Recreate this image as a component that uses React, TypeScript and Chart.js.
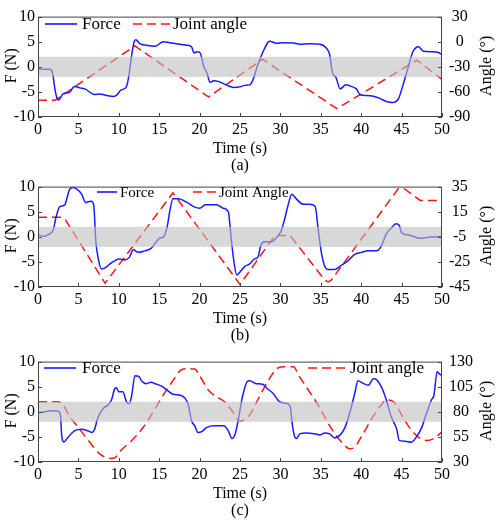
import React, { useEffect, useRef } from "react";
import { Chart, registerables } from "chart.js";

Chart.register(...registerables);

const SERIF = '"Liberation Serif", "Times New Roman", serif';
const BLUE = "rgb(25,25,255)";
const RED = "rgb(255,20,20)";

// Shared force axis and dead band (N)
const forceTicks = [-10, -5, 0, 5, 10];
const bandLimits = [-2, 2];
const timeRange = [0, 50];

// ---------- Trial (a) ----------
const timeForceA = [
  0, 1.5, 1.8, 2.1, 2.3, 2.56, 3.1, 3.9, 4.5, 5.2, 5.8, 7.0, 7.6, 8.5, 9.3, 9.7,
  10.3, 10.9, 11.2, 11.6, 11.9, 12.1, 12.6, 13.4, 14.5, 15.5, 16.3, 17.1, 18.4,
  19.0, 19.3, 19.8, 20.1, 20.5, 20.9, 21.3, 21.7, 22.3, 23.3, 24.2, 25.0, 25.6,
  26.2, 26.6, 27.2, 27.85, 28.5, 28.7, 29.5, 30.3, 31.6, 32.4, 33.6, 34.9, 35.7,
  36.1, 36.4, 36.9, 37.4, 38.1, 38.6, 39.4, 39.9, 40.7, 41.5, 42.3, 43.1, 43.9,
  44.6, 45.2, 45.8, 46.4, 47.1, 47.7, 48.7, 49.5, 50,
];
const forceA = [
  -0.5, -0.5, -1.2, -4.5, -6.0, -6.6, -5.4, -5.1, -3.9, -4.2, -4.4, -5.5, -5.4,
  -5.7, -5.9, -5.7, -4.6, -4.1, -2.2, 2.4, 5.0, 5.4, 4.6, 4.3, 4.1, 5.0, 4.8,
  4.6, 4.3, 4.0, 2.8, 3.0, 2.7, 0.1, -1.2, -3.1, -2.8, -2.9, -3.6, -4.1, -4.0,
  -3.7, -3.6, -2.6, 0.4, 3.0, 4.95, 5.1, 4.7, 4.8, 4.75, 4.5, 4.6, 4.5, 3.7,
  2.4, -0.9, -2.2, -4.4, -3.6, -3.8, -4.4, -5.6, -5.7, -5.85, -6.3, -6.9, -7.1,
  -6.4, -3.5, -0.2, 3.0, 4.0, 3.1, 3.0, 2.9, 2.4,
];
const timeAngleA = [0, 2.1, 12.0, 21.1, 27.8, 37.0, 46.9, 50];
const angleA = [-70, -70, -5, -66, -21, -80, -22, -45];
const angleTicksA = [-90, -60, -30, 0, 30];

// ---------- Trial (b) ----------
const timeForceB = [
  0, 0.8, 1.2, 1.9, 2.2, 2.7, 3.3, 3.5, 3.9, 4.3, 4.8, 5.4, 5.9, 6.2, 6.6, 6.9,
  7.15, 7.5, 7.85, 8.3, 8.9, 9.5, 10.0, 10.7, 11.3, 11.8, 12.4, 13.2, 14.0, 14.7,
  15.1, 15.5, 16.0, 16.3, 16.7, 17.4, 18.4, 19.4, 20.0, 20.7, 22.1, 22.9, 23.55,
  23.9, 24.2, 24.6, 25.0, 25.6, 26.2, 26.8, 27.2, 27.6, 28.05, 28.9, 29.5, 30.1,
  30.5, 30.95, 31.4, 32.0, 32.8, 33.6, 34.3, 34.7, 35.1, 35.5, 35.9, 36.7, 37.5,
  38.2, 39.2, 40.0, 40.9, 41.9, 42.5, 43.1, 43.7, 44.3, 44.7, 45.0, 46.0, 47.3,
  48.5, 50,
];
const forceB = [
  0.4, 0.1, 0.4, 1.4, 3.7, 6.0, 6.3, 7.2, 9.4, 9.8, 9.5, 8.5, 6.8, 7.0, 7.1, 6.3,
  -0.8, -4.7, -6.4, -6.2, -5.4, -4.8, -4.4, -4.6, -4.1, -2.6, -3.1, -2.8, -2.3,
  -0.9, -0.2, -0.1, 2.1, 5.0, 7.6, 7.6, 6.9, 5.9, 5.7, 6.4, 6.4, 5.7, 5.0, -0.2,
  -4.4, -7.6, -7.0, -5.9, -5.4, -4.4, -4.1, -1.6, -1.0, -1.0, -0.2, 1.2, 3.4,
  6.3, 8.5, 7.5, 6.5, 6.5, 6.1, 1.1, -3.4, -5.9, -6.5, -6.5, -5.7, -5.0, -3.5,
  -3.1, -2.8, -2.8, -1.8, 0.6, 1.7, 2.6, 2.3, 0.8, 0.3, -0.3, -0.05, 0.05,
];
const timeAngleB = [0, 2.8, 3.3, 8.3, 16.7, 25.0, 29.3, 31.2, 35.5, 35.9, 36.3, 44.6, 45.0, 45.4, 47.3, 50];
const angleB = [10.5, 10.5, 9.5, -42, 30, -43, -4, -4, -39.5, -41, -39.5, 33.5, 34, 33, 24, 24];
const angleTicksB = [-45, -25, -5, 15, 35];

// ---------- Trial (c) ----------
const timeForceC = [
  0, 1.9, 2.5, 2.8, 2.9, 3.2, 3.7, 4.5, 5.4, 6.2, 6.7, 7.0, 7.4, 8.1, 8.7, 9.1,
  9.5, 9.7, 10.0, 10.5, 10.95, 11.3, 11.6, 12.0, 12.5, 12.8, 13.4, 14.0, 14.5,
  15.3, 15.9, 16.7, 17.6, 18.2, 18.6, 19.0, 19.4, 19.8, 20.2, 20.9, 21.9, 23.0,
  23.55, 24.0, 24.4, 24.8, 25.3, 25.9, 26.2, 27.0, 27.8, 28.4, 29.1, 29.9, 30.7,
  31.2, 31.5, 31.8, 32.0, 32.4, 33.2, 34.3, 34.9, 35.5, 36.1, 36.7, 37.4, 38.0,
  38.4, 38.8, 39.2, 39.6, 40.2, 40.9, 41.5, 41.9, 42.5, 43.1, 43.7, 44.4, 44.7,
  45.4, 46.2, 46.8, 47.5, 48.1, 48.7, 49.0, 49.4, 49.7, 50,
];
const forceC = [
  -0.2, 0.2, 0.1, -0.9, -4.1, -6.0, -5.1, -3.8, -3.5, -3.8, -4.1, -3.5, -1.2, 0.7,
  1.4, 2.4, 4.6, 4.8, 4.0, 4.0, 2.0, 1.6, 3.3, 7.2, 7.0, 6.2, 5.6, 5.9, 5.6, 5.1,
  4.4, 3.5, 3.3, 2.7, 1.4, -1.8, -2.8, -4.1, -4.0, -3.1, -2.8, -2.8, -3.8, -5.3,
  -4.4, -1.5, 3.0, 6.05, 6.2, 5.6, 5.5, 4.6, 3.65, 2.0, 1.7, 1.1, -2.8, -5.1,
  -5.3, -4.4, -4.2, -4.4, -4.6, -4.2, -4.4, -5.2, -4.6, -3.1, -1.2, 1.1, 3.65,
  6.2, 5.7, 5.3, 6.6, 6.4, 4.95, 2.4, -0.9, -3.5, -5.7, -5.85, -6.05, -5.1, -3.1,
  -0.2, 2.4, 3.3, 8.0, 7.5, 7.2,
];
const timeAngleC = [
  0, 2.4, 3.0, 3.9, 5.0, 6.4, 7.6, 8.9, 9.5, 10.3, 11.6, 13.0, 14.3, 15.5, 16.7,
  17.6, 18.2, 19.4, 20.0, 21.1, 22.1, 23.1, 24.2, 25.0, 25.6, 26.2, 27.4, 28.5,
  29.5, 30.3, 31.6, 32.4, 33.6, 34.9, 36.1, 37.4, 38.6, 39.2, 40.2, 41.5, 42.5,
  43.1, 44.0, 45.0, 46.0, 47.1, 48.1, 48.9, 50,
];
const angleC = [
  90, 90, 88, 75.6, 64.3, 49.7, 38.4, 33.6, 34.2, 41.7, 51.4, 64.3, 80.5, 96.7,
  111, 121, 123, 122.6, 116, 101.5, 95, 90, 78.9, 70.8, 72.4, 77, 95, 111, 122.6,
  124.8, 124.8, 114.5, 100, 83.7, 66, 51.4, 43.3, 44.9, 57.8, 75.6, 87, 91.8, 90,
  77, 64, 54.6, 51.4, 53, 60,
];
const angleTicksC = [30, 55, 80, 105, 130];

const zip = (t: number[], v: number[]) => t.map((x, i) => ({ x, y: v[i] }));

type LegendItem = { text: string; dashed: boolean; x0: number; x1: number; tx: number };

type PanelSpec = {
  top: number;
  caption: string;
  force: { x: number; y: number }[];
  angle: { x: number; y: number }[];
  angleTicks: number[];
  angleSmooth: boolean;
  legendY: number;
  legendFont: number;
  legend: LegendItem[];
};

const panels: PanelSpec[] = [
  {
    top: 0,
    caption: "(a)",
    force: zip(timeForceA, forceA),
    angle: zip(timeAngleA, angleA),
    angleTicks: angleTicksA,
    angleSmooth: false,
    legendY: 24,
    legendFont: 17,
    legend: [
      { text: "Force", dashed: false, x0: 45, x1: 77, tx: 82 },
      { text: "Joint angle", dashed: true, x0: 133, x1: 170, tx: 173 },
    ],
  },
  {
    top: 170,
    caption: "(b)",
    force: zip(timeForceB, forceB),
    angle: zip(timeAngleB, angleB),
    angleTicks: angleTicksB,
    angleSmooth: false,
    legendY: 22,
    legendFont: 15,
    legend: [
      { text: "Force", dashed: false, x0: 97, x1: 117, tx: 120 },
      { text: "Joint Angle", dashed: true, x0: 193, x1: 217, tx: 219 },
    ],
  },
  {
    top: 345,
    caption: "(c)",
    force: zip(timeForceC, forceC),
    angle: zip(timeAngleC, angleC),
    angleTicks: angleTicksC,
    angleSmooth: true,
    legendY: 23,
    legendFont: 17,
    legend: [
      { text: "Force", dashed: false, x0: 44, x1: 76, tx: 82 },
      { text: "Joint angle", dashed: true, x0: 308, x1: 347, tx: 350 },
    ],
  },
];

const DASH = [9, 5];

function decorPlugin(spec: PanelSpec) {
  return {
    id: "panelDecor",
    afterDatasetsDraw(chart: any) {
      const { ctx, chartArea: a, scales } = chart;
      ctx.save();
      // dead band, laid over the traces
      const yHi = scales.y.getPixelForValue(bandLimits[1]);
      const yLo = scales.y.getPixelForValue(bandLimits[0]);
      ctx.fillStyle = "rgba(190,190,190,0.6)";
      ctx.fillRect(a.left, yHi, a.right - a.left, yLo - yHi);

      // box frame
      ctx.strokeStyle = "#454545";
      ctx.lineWidth = 1;
      ctx.strokeRect(a.left + 0.5, a.top + 0.5, a.right - a.left - 1, a.bottom - a.top - 1);

      // inward tick marks
      const TL = 4;
      ctx.beginPath();
      scales.x.ticks.forEach((t: any) => {
        const px = Math.round(scales.x.getPixelForValue(t.value)) + 0.5;
        ctx.moveTo(px, a.bottom);
        ctx.lineTo(px, a.bottom - TL);
      });
      scales.y.ticks.forEach((t: any) => {
        const py = Math.round(scales.y.getPixelForValue(t.value)) + 0.5;
        ctx.moveTo(a.left, py);
        ctx.lineTo(a.left + TL, py);
      });
      scales.y1.ticks.forEach((t: any) => {
        const py = Math.round(scales.y1.getPixelForValue(t.value)) + 0.5;
        ctx.moveTo(a.right, py);
        ctx.lineTo(a.right - TL, py);
      });
      ctx.stroke();
      ctx.restore();
    },
    afterDraw(chart: any) {
      const { ctx, chartArea: a } = chart;
      const midX = (a.left + a.right) / 2;
      const midY = (a.top + a.bottom) / 2 - 1;
      ctx.save();
      ctx.fillStyle = "#000";
      ctx.textAlign = "center";
      ctx.textBaseline = "middle";
      ctx.font = `16px ${SERIF}`;

      ctx.fillText("Time (s)", midX, 149);
      ctx.fillText(spec.caption, midX, 166);

      ctx.save();
      ctx.translate(12, midY);
      ctx.rotate(-Math.PI / 2);
      ctx.fillText("F (N)", 0, 0);
      ctx.restore();

      ctx.save();
      ctx.translate(487, midY);
      ctx.rotate(-Math.PI / 2);
      ctx.fillText("Angle (°)", 0, 0);
      ctx.restore();

      // legend
      ctx.font = `${spec.legendFont}px ${SERIF}`;
      ctx.textAlign = "left";
      spec.legend.forEach((item) => {
        ctx.beginPath();
        ctx.lineWidth = 1.6;
        ctx.strokeStyle = item.dashed ? RED : BLUE;
        ctx.setLineDash(item.dashed ? DASH : []);
        ctx.moveTo(item.x0, spec.legendY);
        ctx.lineTo(item.x1, spec.legendY);
        ctx.stroke();
        ctx.setLineDash([]);
        ctx.fillText(item.text, item.tx, spec.legendY + 1);
      });
      ctx.restore();
    },
  };
}

function Panel({ spec }: { spec: PanelSpec }) {
  const ref = useRef<HTMLCanvasElement>(null);

  useEffect(() => {
    const tickFont = { family: SERIF, size: 16 };
    const angleMin = spec.angleTicks[0];
    const angleMax = spec.angleTicks[spec.angleTicks.length - 1];
    const chart = new Chart(ref.current as HTMLCanvasElement, {
      type: "line",
      data: {
        datasets: [
          {
            label: "Force",
            data: spec.force,
            yAxisID: "y",
            borderColor: BLUE,
            borderWidth: 1.5,
            pointRadius: 0,
            cubicInterpolationMode: "monotone",
            fill: false,
          },
          {
            label: "Joint angle",
            data: spec.angle,
            yAxisID: "y1",
            borderColor: RED,
            borderWidth: 1.5,
            borderDash: DASH,
            pointRadius: 0,
            cubicInterpolationMode: spec.angleSmooth ? "monotone" : "default",
            tension: 0,
            fill: false,
          },
        ],
      },
      options: {
        animation: false,
        responsive: false,
        devicePixelRatio: 1,
        parsing: false as any,
        layout: { padding: { top: 14, left: 0, right: 0, bottom: 0 } },
        plugins: { legend: { display: false }, tooltip: { enabled: false } },
        scales: {
          x: {
            type: "linear",
            min: timeRange[0],
            max: timeRange[1],
            grid: { display: false, drawTicks: false },
            border: { display: false },
            ticks: { stepSize: 5, font: tickFont, color: "#000", padding: 3, maxRotation: 0 },
            afterFit: (s: any) => {
              s.height = 58;
            },
          },
          y: {
            type: "linear",
            position: "left",
            min: forceTicks[0],
            max: forceTicks[forceTicks.length - 1],
            grid: { display: false, drawTicks: false },
            border: { display: false },
            ticks: { stepSize: 5, font: tickFont, color: "#000", padding: 3 },
            afterFit: (s: any) => {
              s.width = 38;
            },
          },
          y1: {
            type: "linear",
            position: "right",
            min: angleMin,
            max: angleMax,
            grid: { display: false, drawTicks: false },
            border: { display: false },
            ticks: {
              stepSize: spec.angleTicks[1] - spec.angleTicks[0],
              font: tickFont,
              color: "#000",
              padding: 7,
              crossAlign: "center",
            },
            afterFit: (s: any) => {
              s.width = 58;
            },
          },
        },
      },
      plugins: [decorPlugin(spec)],
    } as any);
    return () => chart.destroy();
  }, [spec]);

  return (
    <canvas
      ref={ref}
      width={500}
      height={175}
      style={{ position: "absolute", left: 0, top: spec.top, width: 500, height: 175 }}
    />
  );
}

export default function App() {
  return (
    <div style={{ position: "absolute", left: 0, top: 0, width: 500, height: 525, background: "#fff" }}>
      {panels.map((p) => (
        <Panel key={p.caption} spec={p} />
      ))}
    </div>
  );
}
